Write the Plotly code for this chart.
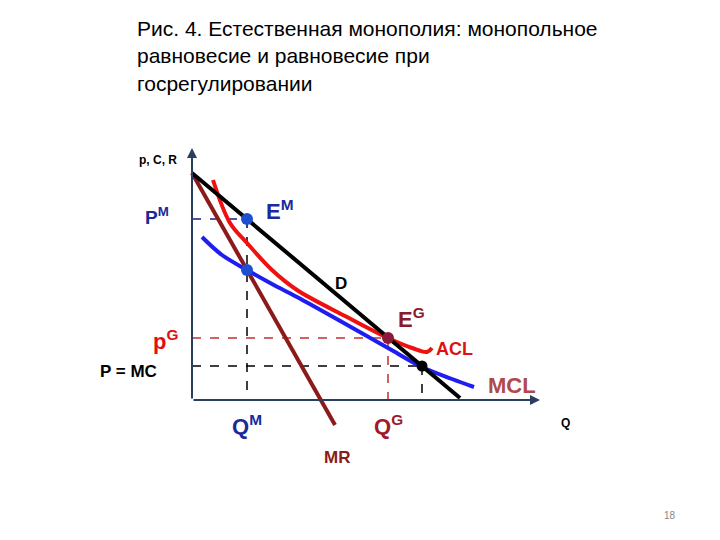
import plotly.graph_objects as go

# data in chart units (origin at axes corner)
d_x = [0, 268]
d_y = [227, 2]
mr_x = [0, 143]
mr_y = [227, -25]
acl_x = [21, 38, 55, 80, 105, 155, 196, 220, 235, 240]
acl_y = [220, 177, 157, 130, 110, 83, 62, 52, 48, 52]
mcl_x = [10, 30, 55, 80, 105, 150, 196, 230, 260, 282]
mcl_y = [163, 145, 130, 116, 103, 78, 52, 33, 21, 13]
q_m, p_m, mc_m = 55, 181, 130
q_g, p_g = 196, 62
q_c, p_c = 230, 34

# pixel -> chart units
def X(px):
    return px - 192

def Y(py):
    return 400 - py

fig = go.Figure()

dash_blue = dict(color="#1a1a8a", width=1.5, dash="dash")
dash_red = dict(color="#c03030", width=1.5, dash="dash")
dash_black = dict(color="black", width=1.5, dash="dash")
fig.add_trace(go.Scatter(x=[0, q_m], y=[p_m, p_m], mode="lines", line=dash_blue))
fig.add_trace(go.Scatter(x=[q_m, q_m], y=[p_m, 0], mode="lines", line=dash_black))
fig.add_trace(go.Scatter(x=[0, q_g], y=[p_g, p_g], mode="lines", line=dash_red))
fig.add_trace(go.Scatter(x=[q_g, q_g], y=[p_g, 0], mode="lines", line=dash_red))
fig.add_trace(go.Scatter(x=[0, q_c], y=[p_c, p_c], mode="lines", line=dash_black))
fig.add_trace(go.Scatter(x=[q_c, q_c], y=[p_c, 0], mode="lines", line=dash_black))

fig.add_trace(go.Scatter(x=mcl_x, y=mcl_y, mode="lines", line=dict(color="#1e1ef0", width=4, shape="spline")))
fig.add_trace(go.Scatter(x=acl_x, y=acl_y, mode="lines", line=dict(color="#f01010", width=4, shape="spline")))
fig.add_trace(go.Scatter(x=mr_x, y=mr_y, mode="lines", line=dict(color="#8b1a1a", width=4)))
fig.add_trace(go.Scatter(x=d_x, y=d_y, mode="lines", line=dict(color="black", width=4)))

fig.add_trace(go.Scatter(x=[q_m, q_m], y=[p_m, mc_m], mode="markers", marker=dict(color="#1e4fd0", size=12)))
fig.add_trace(go.Scatter(x=[q_g], y=[p_g], mode="markers", marker=dict(color="#8b1a3a", size=12)))
fig.add_trace(go.Scatter(x=[q_c], y=[p_c], mode="markers", marker=dict(color="black", size=11)))

# axes
fig.add_annotation(x=0, y=Y(148), ax=0, ay=0, axref="x", ayref="y", showarrow=True,
                   arrowhead=2, arrowwidth=2, arrowsize=1, text="")
fig.add_annotation(x=X(540), y=0, ax=0, ay=0, axref="x", ayref="y", showarrow=True,
                   arrowhead=2, arrowwidth=2, arrowsize=1, text="")

F = "Arial, Liberation Sans, sans-serif"
def label(px, py, text, color, size, bold=True):
    t = f"<b>{text}</b>" if bold else text
    fig.add_annotation(x=X(px), y=Y(py), text=t, showarrow=False,
                       font=dict(family=F, size=size, color=color), xanchor="center", yanchor="middle")

label(158, 160, "p, C, R", "black", 12)
label(157, 216, "P<sup>M</sup>", "#1a2a9a", 19)
label(280, 210, "E<sup>M</sup>", "#1a2a9a", 22)
label(341, 283, "D", "black", 17)
label(411, 318, "E<sup>G</sup>", "#8b1a2a", 22)
label(454, 349, "ACL", "#e01010", 18)
label(165, 340, "p<sup>G</sup>", "#e01010", 22)
label(128, 371, "P = MC", "black", 17)
label(512, 385, "MCL", "#b04a4a", 22)
label(247, 425, "Q<sup>M</sup>", "#1a2a9a", 22)
label(388, 425, "Q<sup>G</sup>", "#a01a2a", 22)
label(565, 423, "Q", "black", 12)
label(337, 457, "MR", "#8b1a1a", 17)
label(670, 515, "18", "#888888", 10, bold=False)

fig.add_annotation(x=X(135), y=Y(15), xanchor="left", yanchor="top", align="left", showarrow=False,
                   text="Рис. 4. Естественная монополия: монопольное<br>равновесие и равновесие при<br>госрегулировании",
                   font=dict(family=F, size=21, color="black"))

fig.update_layout(width=720, height=540, margin=dict(l=0, r=0, t=0, b=0),
                  showlegend=False, plot_bgcolor="white", paper_bgcolor="white",
                  xaxis=dict(range=[X(8), X(728)], visible=False, fixedrange=True),
                  yaxis=dict(range=[Y(548), Y(8)], visible=False, fixedrange=True))
fig.write_html("out.html")
